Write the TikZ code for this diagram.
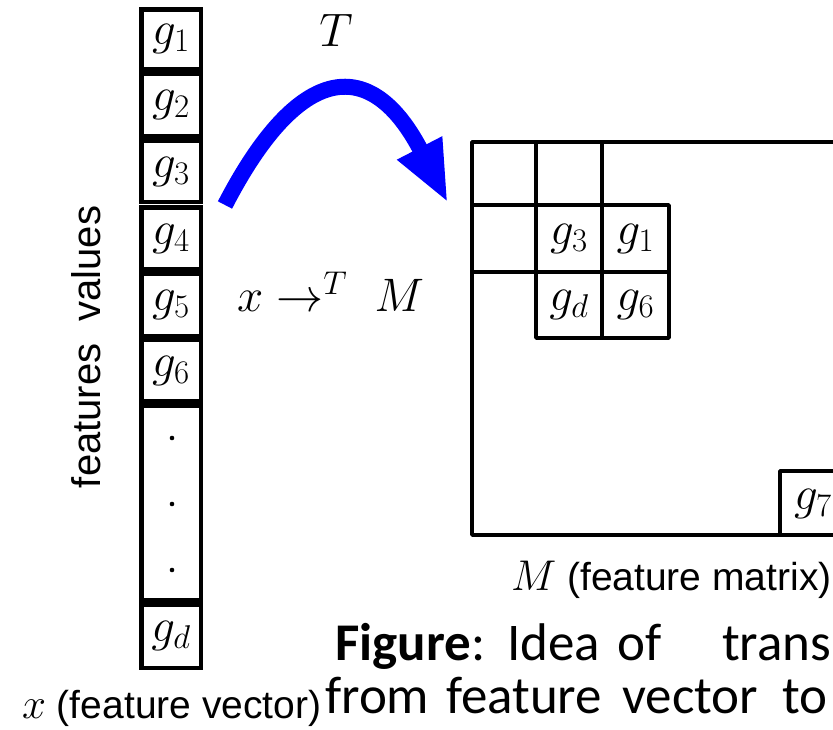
\RequirePackage{fix-cm}
\documentclass[tikz,border=0pt]{standalone}
\usepackage{fontspec}
\newfontfamily\arialf{Liberation Sans}
\newfontfamily\calib{Carlito}
\usetikzlibrary{arrows.meta}
\begin{document}
\begin{tikzpicture}[x=1pt,y=-1pt,
  cellbox/.style={draw, line width=4.5pt, minimum width=59.5pt, inner sep=0pt,
    font=\fontsize{47}{54}\selectfont},
  mline/.style={line width=3.8pt, line cap=round, line join=round},
  mth/.style={inner sep=0pt, font=\fontsize{47}{54}\selectfont},
  sans/.style={inner sep=0pt, font=\arialf\fontsize{39}{46}\selectfont},
  capt/.style={inner sep=0pt, anchor=base west, font=\calib\fontsize{53}{64}\selectfont},
]
\useasboundingbox (0,0) rectangle (833,730);
\clip (0,0) rectangle (833,730);
% feature vector
\node[cellbox, minimum height=59.75pt] (v1) at (171,39.375) {$g_1$};
\node[cellbox, minimum height=62.5pt]  (v2) at (171,105) {$g_2$};
\node[cellbox, minimum height=61.5pt]  (v3) at (171,171.5) {$g_3$};
\node[cellbox, minimum height=61.5pt]  (v4) at (171,238.5) {$g_4$};
\node[cellbox, minimum height=62.5pt]  (v5) at (171,305) {$g_5$};
\node[cellbox, minimum height=61.5pt]  (v6) at (171,370.5) {$g_6$};
\node[cellbox, minimum height=194.5pt] (vdots) at (171,503) {};
\node[cellbox, minimum height=63pt]    (vd) at (171,636.25) {$g_d$};
\fill (172,438) circle (2.3pt);
\fill (172,504) circle (2.3pt);
\fill (172,570) circle (2.3pt);
% labels of the vector
\node[sans, rotate=90, font=\arialf\fontsize{40}{48}\selectfont] (fv) at (86,347) {features\hspace{0.55em}values};
\node[sans, anchor=base west] (xlab) at (22,718) {\fontsize{43}{50}\selectfont$x$\fontsize{39}{46}\selectfont\ (feature vector)};
% matrix
\draw[mline] (900,142) -- (472,142) -- (472,535) -- (900,535);
\draw[mline] (536,142) -- (536,338) -- (669,338) -- (669,205) -- (472,205);
\draw[mline] (602,142) -- (602,338);
\draw[mline] (472,272) -- (669,272);
\draw[mline] (780,535) -- (780,471) -- (900,471);
\node[mth] (m31) at (569,238.5) {$g_3$};
\node[mth] (m11) at (635.5,238.5) {$g_1$};
\node[mth] (md) at (569,305) {$g_d$};
\node[mth] (m6) at (635.5,305) {$g_6$};
\node[mth] (m7) at (813,504) {$g_7$};
\node[sans, anchor=base west] (mlab) at (511,590) {\fontsize{43}{50}\selectfont$M$\fontsize{39}{46}\selectfont\ (feature matrix)};
% transformation arrow
\coordinate (as) at (225,205);
\coordinate (at) at (448,203);
\draw[blue, line width=16pt, -{Triangle[length=62pt,width=46pt]}] (as) .. controls (300,60) and (372,56) .. (at);
\node[mth] (T) at (336,30) {$T$};
\node[mth, anchor=base west] (xtm) at (237,312) {$x \rightarrow^{T}\ M$};
% caption
\node[capt] (c1) at (335,660) {\bfseries Figure};
\node[capt, anchor=base west] (c1b) at (c1.base east) {:};
\node[capt] (c2) at (507,660) {Idea};
\node[capt] (c3) at (617,660) {of};
\node[capt] (c4) at (722,660) {trans};
\node[capt] (d1) at (325,713) {from};
\node[capt] (d2) at (446,713) {feature};
\node[capt] (d3) at (622,713) {vector};
\node[capt] (d4) at (782,713) {to};
\end{tikzpicture}
\end{document}
